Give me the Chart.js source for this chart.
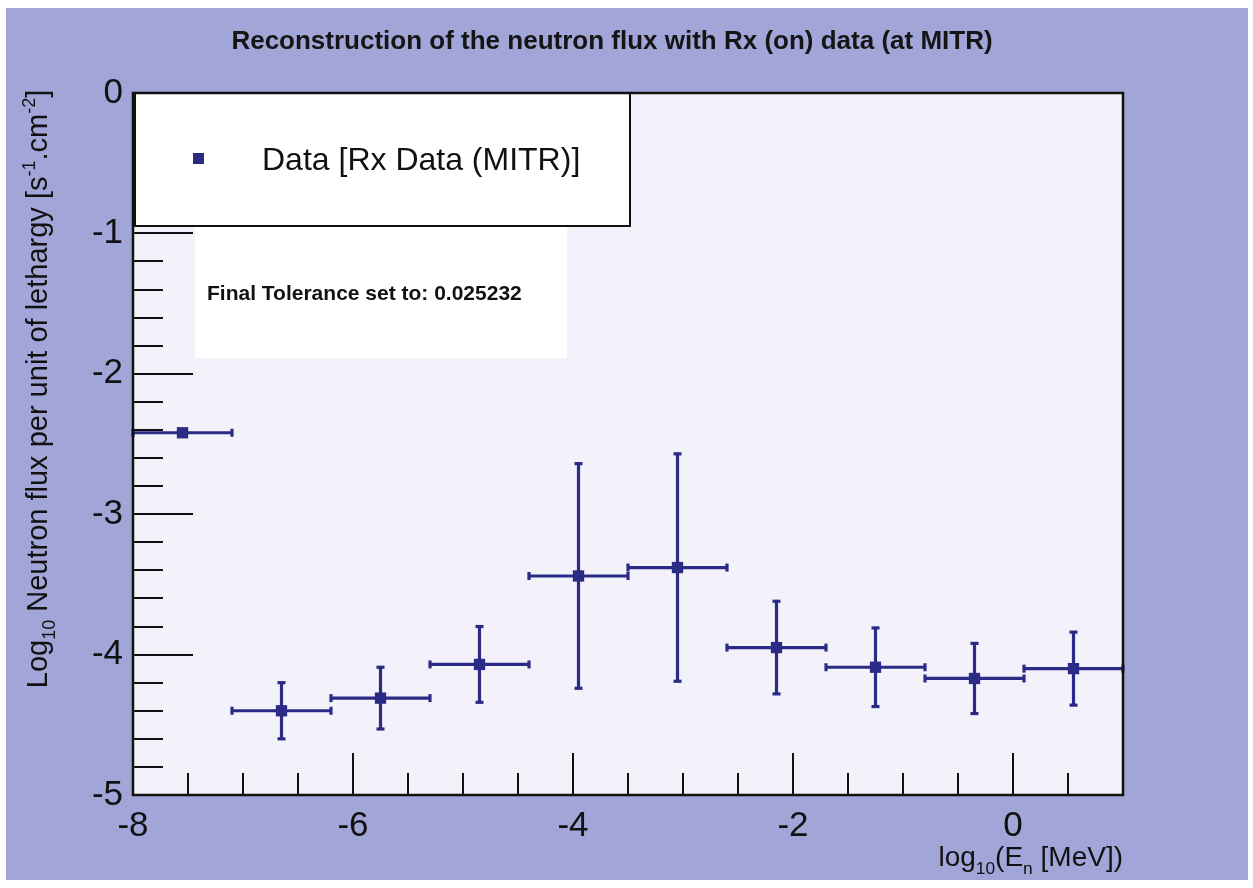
<!DOCTYPE html>
<html>
<head>
<meta charset="utf-8">
<title>Neutron flux reconstruction</title>
<script src="https://cdn.jsdelivr.net/npm/chart.js@4/dist/chart.umd.min.js"></script>
<style>
  html, body { margin: 0; padding: 0; background: #ffffff; }
  canvas { display: block; }
</style>
</head>
<body>
<canvas id="canvas" width="1253" height="888"></canvas>
<script>
// energy bins, log10(E [MeV])
const binLow  = [-8.0, -7.1, -6.2, -5.3, -4.4, -3.5, -2.6, -1.7, -0.8, 0.1];
const binHigh = [-7.1, -6.2, -5.3, -4.4, -3.5, -2.6, -1.7, -0.8, 0.1, 1.0];
const binCentre = [-7.55, -6.65, -5.75, -4.85, -3.95, -3.05, -2.15, -1.25, -0.35, 0.55];

// reconstructed log10 flux per unit of lethargy and its uncertainty
const logFlux = [-2.42, -4.40, -4.31, -4.07, -3.44, -3.38, -3.95, -4.09, -4.17, -4.10];
const fluxErr = [0.00, 0.20, 0.22, 0.27, 0.80, 0.81, 0.33, 0.28, 0.25, 0.26];

const xTickValues = [-8, -6, -4, -2, 0];
const yTickValues = [0, -1, -2, -3, -4, -5];

const chartTitle = "Reconstruction of the neutron flux with Rx (on) data (at MITR)";
const seriesLabel = "Data [Rx Data (MITR)]";
const toleranceNote = "Final Tolerance set to: 0.025232";

const FONT = "'Liberation Sans', Arial, Helvetica, sans-serif";
const INK = "#2b2b86";
const PAGE = "#a2a5d7";
const PAD = "#f3f2fb";

// draw text with sub/superscript pieces, returns total width
function richText(ctx, parts, x, y, size, weight, align) {
  const widths = parts.map(p => {
    const s = p.k === "n" ? size : size * 0.62;
    ctx.font = `${weight} ${s}px ${FONT}`;
    return ctx.measureText(p.t).width;
  });
  const total = widths.reduce((a, b) => a + b, 0);
  let cx = align === "center" ? x - total / 2 : align === "right" ? x - total : x;
  ctx.textAlign = "left";
  ctx.textBaseline = "alphabetic";
  parts.forEach((p, i) => {
    const s = p.k === "n" ? size : size * 0.62;
    const dy = p.k === "sub" ? size * 0.28 : p.k === "sup" ? -size * 0.42 : 0;
    ctx.font = `${weight} ${s}px ${FONT}`;
    ctx.fillText(p.t, cx, y + dy);
    cx += widths[i];
  });
  return total;
}

function line(ctx, x0, y0, x1, y1) {
  ctx.beginPath();
  ctx.moveTo(x0, y0);
  ctx.lineTo(x1, y1);
  ctx.stroke();
}

const framePlugin = {
  id: "frame",
  beforeDraw(chart) {
    const { ctx, chartArea: a } = chart;
    ctx.save();
    ctx.fillStyle = "#ffffff";
    ctx.fillRect(0, 0, chart.width, chart.height);
    ctx.fillStyle = PAGE;
    ctx.fillRect(6, 8, chart.width - 11, chart.height - 16);
    ctx.fillStyle = PAD;
    ctx.fillRect(a.left, a.top, a.right - a.left, a.bottom - a.top);
    ctx.restore();
  },
  beforeDatasetsDraw(chart) {
    const { ctx, chartArea: a, scales: { x, y } } = chart;
    ctx.save();
    ctx.strokeStyle = "#111";
    ctx.lineWidth = 2;
    // tick marks drawn inside the frame, ROOT style
    for (let i = 0; i <= 25; i++) {
      const v = -5 + i * 0.2;
      const major = i % 5 === 0;
      const py = Math.round(y.getPixelForValue(v));
      line(ctx, a.left, py, a.left + (major ? 60 : 30), py);
    }
    for (let i = 0; i <= 18; i++) {
      const v = -8 + i * 0.5;
      const major = i % 4 === 0;
      const px = Math.round(x.getPixelForValue(v));
      line(ctx, px, a.bottom, px, a.bottom - (major ? 42 : 22));
    }
    // horizontal bin widths and vertical uncertainties
    ctx.strokeStyle = INK;
    ctx.lineWidth = 3.2;
    binCentre.forEach((c, i) => {
      const py = y.getPixelForValue(logFlux[i]);
      const x0 = x.getPixelForValue(binLow[i]);
      const x1 = x.getPixelForValue(binHigh[i]);
      line(ctx, x0, py, x1, py);
      line(ctx, x0, py - 4, x0, py + 4);
      line(ctx, x1, py - 4, x1, py + 4);
      if (fluxErr[i] > 0) {
        const px = x.getPixelForValue(c);
        const y0 = y.getPixelForValue(logFlux[i] + fluxErr[i]);
        const y1 = y.getPixelForValue(logFlux[i] - fluxErr[i]);
        line(ctx, px, y0, px, y1);
        line(ctx, px - 4, y0, px + 4, y0);
        line(ctx, px - 4, y1, px + 4, y1);
      }
    });
    ctx.restore();
  },
  afterDraw(chart) {
    const { ctx, chartArea: a } = chart;
    ctx.save();

    // legend box
    ctx.fillStyle = "#ffffff";
    ctx.fillRect(a.left + 2, a.top, 495, 133);
    ctx.strokeStyle = "#111";
    ctx.lineWidth = 2;
    ctx.strokeRect(a.left + 2, a.top, 495, 133);
    ctx.fillStyle = INK;
    ctx.fillRect(193, 153, 11, 11);
    ctx.fillStyle = "#111";
    ctx.font = `32px ${FONT}`;
    ctx.textAlign = "left";
    ctx.textBaseline = "middle";
    ctx.fillText(chart.data.datasets[0].label, 262, 161);

    // fit note
    ctx.fillStyle = "#ffffff";
    ctx.fillRect(195, a.top + 134, 372, 131);
    ctx.fillStyle = "#111";
    ctx.font = `bold 21px ${FONT}`;
    ctx.fillText(toleranceNote, 207, 294);

    // frame
    ctx.strokeStyle = "#111";
    ctx.lineWidth = 2.5;
    ctx.strokeRect(a.left, a.top, a.right - a.left, a.bottom - a.top);

    // title
    ctx.fillStyle = "#151515";
    ctx.font = `bold 26px ${FONT}`;
    ctx.textAlign = "center";
    ctx.textBaseline = "alphabetic";
    ctx.fillText(chartTitle, 612, 49);

    // axis titles
    ctx.fillStyle = "#111";
    richText(ctx, [
      { t: "log", k: "n" }, { t: "10", k: "sub" }, { t: "(E", k: "n" },
      { t: "n", k: "sub" }, { t: " [MeV])", k: "n" }
    ], a.right, 866, 28, "normal", "right");

    ctx.translate(47, 389);
    ctx.rotate(-Math.PI / 2);
    richText(ctx, [
      { t: "Log", k: "n" }, { t: "10", k: "sub" },
      { t: " Neutron flux per unit of lethargy [s", k: "n" },
      { t: "-1", k: "sup" }, { t: ".cm", k: "n" }, { t: "-2", k: "sup" }, { t: "]", k: "n" }
    ], 0, 0, 29, "normal", "center");

    ctx.restore();
  }
};

const points = binCentre.map((c, i) => ({ x: c, y: logFlux[i] }));

new Chart(document.getElementById("canvas").getContext("2d"), {
  type: "scatter",
  data: {
    datasets: [{
      label: seriesLabel,
      data: points,
      pointStyle: "rect",
      pointRadius: 8,
      pointHoverRadius: 8,
      backgroundColor: INK,
      borderColor: INK,
      borderWidth: 0
    }]
  },
  options: {
    responsive: false,
    animation: false,
    layout: { padding: { left: 0, top: 93, right: 130, bottom: 0 } },
    plugins: {
      legend: { display: false },
      title: { display: false },
      tooltip: { enabled: false }
    },
    scales: {
      x: {
        type: "linear",
        min: -8,
        max: 1,
        grid: { display: false },
        border: { display: false },
        afterFit: s => { s.height = 93; },
        afterBuildTicks: s => { s.ticks = xTickValues.map(v => ({ value: v })); },
        ticks: {
          color: "#111",
          padding: 2,
          maxRotation: 0,
          autoSkip: false,
          font: { family: FONT, size: 35 }
        }
      },
      y: {
        type: "linear",
        min: -5,
        max: 0,
        grid: { display: false },
        border: { display: false },
        afterFit: s => { s.width = 133; },
        afterBuildTicks: s => { s.ticks = yTickValues.map(v => ({ value: v })); },
        ticks: {
          color: "#111",
          padding: 2,
          autoSkip: false,
          font: { family: FONT, size: 35 }
        }
      }
    }
  },
  plugins: [framePlugin]
});
</script>
</body>
</html>
